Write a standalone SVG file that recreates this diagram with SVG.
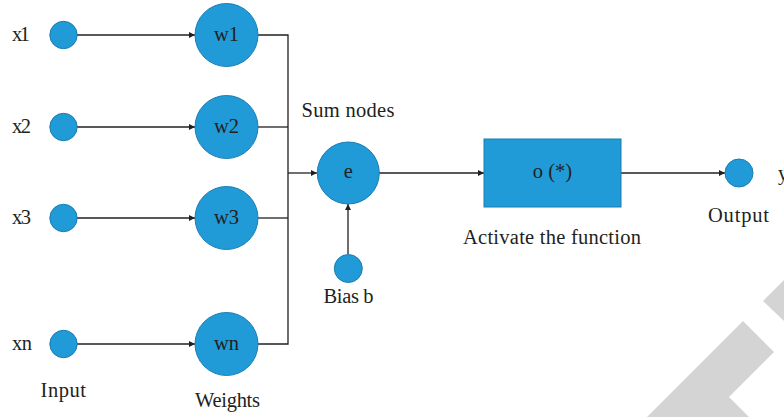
<svg xmlns="http://www.w3.org/2000/svg" width="784" height="417" viewBox="0 0 784 417">
<style>
.n{fill:#209bd7;stroke:#1a7db3;stroke-width:1}
.l{fill:none;stroke:#231f20;stroke-width:1.3}
.t{font-family:"Liberation Serif","Times New Roman",serif;font-size:20.5px;fill:#231f20}
.c{text-anchor:middle}
.wm{fill:#d4d4d4}
</style>
<defs>
<marker id="ah" viewBox="0 0 10 10" refX="10" refY="5" markerWidth="6" markerHeight="6" markerUnits="userSpaceOnUse" orient="auto">
<path d="M0,0 L10,5 L0,10 z" fill="#231f20"/>
</marker>
</defs>
<g id="watermark">
<polygon class="wm" points="647,417 743,321 774,352 729,397 749,417"/>
<polygon class="wm" points="784,280 763,301 784,321"/>
</g>
<g id="connectors">
<line class="l" x1="77" y1="35" x2="195" y2="35" marker-end="url(#ah)"/>
<line class="l" x1="77" y1="127" x2="195" y2="127" marker-end="url(#ah)"/>
<line class="l" x1="77" y1="218" x2="195" y2="218" marker-end="url(#ah)"/>
<line class="l" x1="77" y1="344" x2="195" y2="344" marker-end="url(#ah)"/>
<polyline class="l" points="258,35 288,35 288,344 258,344"/>
<line class="l" x1="258" y1="127" x2="288" y2="127"/>
<line class="l" x1="258" y1="218" x2="288" y2="218"/>
<line class="l" x1="288" y1="173" x2="317" y2="173" marker-end="url(#ah)"/>
<line class="l" x1="348" y1="254" x2="348" y2="204" marker-end="url(#ah)"/>
<line class="l" x1="379" y1="173" x2="484" y2="173" marker-end="url(#ah)"/>
<line class="l" x1="621" y1="173" x2="725" y2="173" marker-end="url(#ah)"/>
</g>
<g id="x1"><circle class="n" cx="63.5" cy="35" r="13.7"/><text class="t" x="12" y="41" textLength="18">x1</text></g>
<g id="x2"><circle class="n" cx="63.5" cy="127" r="13.7"/><text class="t" x="12" y="133" textLength="19">x2</text></g>
<g id="x3"><circle class="n" cx="63.5" cy="218" r="13.7"/><text class="t" x="12" y="224" textLength="19">x3</text></g>
<g id="xn"><circle class="n" cx="63.5" cy="344" r="13.7"/><text class="t" x="12" y="350" textLength="20">xn</text></g>
<g id="w1"><circle class="n" cx="226.5" cy="35" r="31.5"/><text class="t c" x="226.5" y="41">w1</text></g>
<g id="w2"><circle class="n" cx="226.5" cy="127" r="31.5"/><text class="t c" x="226.5" y="133">w2</text></g>
<g id="w3"><circle class="n" cx="226.5" cy="218" r="31.5"/><text class="t c" x="226.5" y="224">w3</text></g>
<g id="wn"><circle class="n" cx="226.5" cy="344" r="31.5"/><text class="t c" x="226.5" y="350">wn</text></g>
<g id="e"><circle class="n" cx="348.3" cy="173" r="31"/><text class="t c" x="348.3" y="178">e</text><text class="t" x="301.5" y="117" textLength="93">Sum nodes</text></g>
<g id="bias"><circle class="n" cx="348.3" cy="268.5" r="14"/><text class="t" x="323.5" y="303" textLength="50">Bias b</text></g>
<g id="activation"><rect class="n" x="484" y="139" width="137" height="68"/><text class="t c" x="552.5" y="178">o (*)</text><text class="t" x="463" y="244" textLength="178">Activate the function</text></g>
<g id="output"><circle class="n" cx="739" cy="173" r="14"/><text class="t" x="708" y="222" textLength="61">Output</text><text class="t" x="778" y="180">y</text></g>
<text class="t" x="40.5" y="397" textLength="45.5">Input</text>
<text class="t" x="195" y="407" textLength="65">Weights</text>
</svg>
